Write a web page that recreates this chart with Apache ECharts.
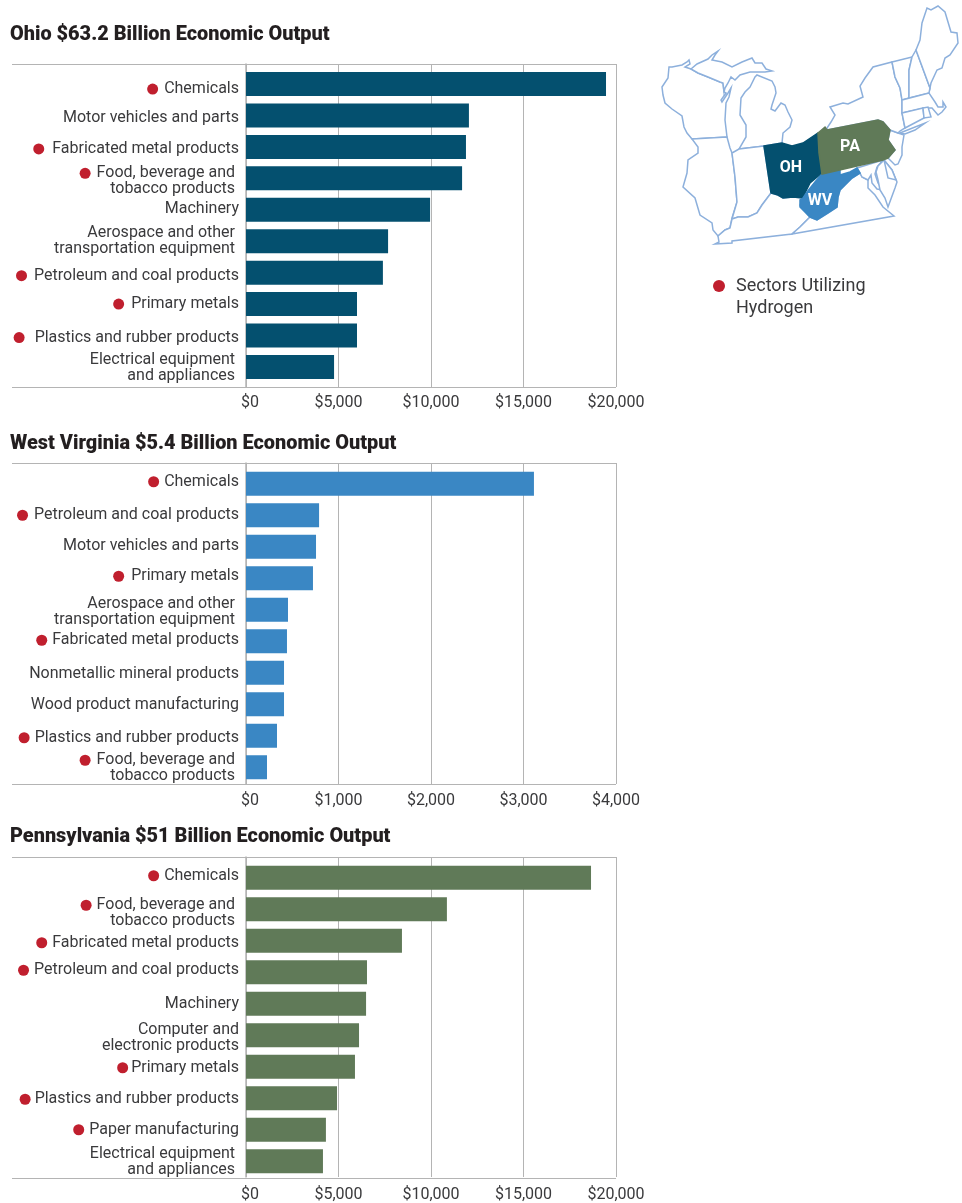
<!DOCTYPE html>
<html style="height: 100%">
<head>
<meta charset="utf-8">
<title>Economic Output</title>
<script src="https://cdn.jsdelivr.net/npm/echarts@6/dist/echarts.min.js"></script>
</head>
<body style="height: 100%; margin: 0; background: #fff">
<div id="container" style="width: 962px; height: 1203px"></div>
<script type="text/javascript">
var ohioTitle = 'Ohio $63.2 Billion Economic Output';
var ohioCategories = ['Chemicals', 'Motor vehicles and parts', 'Fabricated metal products', 'Food, beverage and\ntobacco products', 'Machinery', 'Aerospace and other\ntransportation equipment', 'Petroleum and coal products', 'Primary metals', 'Plastics and rubber products', 'Electrical equipment\nand appliances'];
var ohioValues = [19460, 12050, 11890, 11680, 9950, 7680, 7400, 6000, 6000, 4760];

var wvTitle = 'West Virginia $5.4 Billion Economic Output';
var wvCategories = ['Chemicals', 'Petroleum and coal products', 'Motor vehicles and parts', 'Primary metals', 'Aerospace and other\ntransportation equipment', 'Fabricated metal products', 'Nonmetallic mineral products', 'Wood product manufacturing', 'Plastics and rubber products', 'Food, beverage and\ntobacco products'];
var wvValues = [3113, 790, 757, 724, 454, 443, 411, 411, 335, 227];

var paTitle = 'Pennsylvania $51 Billion Economic Output';
var paCategories = ['Chemicals', 'Food, beverage and\ntobacco products', 'Fabricated metal products', 'Petroleum and coal products', 'Machinery', 'Computer and\nelectronic products', 'Primary metals', 'Plastics and rubber products', 'Paper manufacturing', 'Electrical equipment\nand appliances'];
var paValues = [18650, 10860, 8430, 6540, 6490, 6110, 5890, 4920, 4320, 4160];

var hydrogenSectors = ['Chemicals', 'Fabricated metal products', 'Food, beverage and\ntobacco products', 'Petroleum and coal products', 'Primary metals', 'Plastics and rubber products', 'Paper manufacturing'];
var legendLines = ['Sectors Utilizing', 'Hydrogen'];

// the labels in the original are hand placed, these undo the regular spacing
var ohioNudge = [5, 3, 2, 3, -1, 0, 3, 0, 2, 1];
var wvNudge = [-2, 0, -1, -2, 2, -1, 1, 1, 2, 1];
var paNudge = [-2, 4, 2, -2, 0, 3, 1, 1, 0, 1];
var ohioDotGap = [6, 0, 8, 6, 0, 0, 7, 7, 10, 0];
var wvDotGap = [5, 6, 0, 7, 0, 5, 0, 0, 5, 6];
var paDotGap = [5, 5, 5, 5, 0, 0, 3, 4, 5, 0];
var flushSectors = ['Computer and\nelectronic products'];

// state outlines, traced in a plain x / y space (y grows downward)
var stateOutlines = {
	WI: [[669,67],[672,67],[682,65],[687,62],[689,60],[690,64],[685,67],[691,69],[698,73],[708,77],[720,82],[723,83],[724,92],[726,93],[721,100],[722,102],[728,93],[731,88],[732,88],[729,97],[726,103],[725,120],[727,137],[692,139],[687,133],[684,127],[682,116],[672,109],[665,103],[663,95],[662,87],[668,78]],
	UP: [[691,69],[697,64],[708,59],[712,55],[718,51],[715,55],[712,60],[722,62],[732,67],[742,62],[752,58],[755,63],[762,63],[766,69],[772,71],[765,72],[757,72],[750,72],[740,75],[735,80],[731,77],[728,83],[725,88],[724,92],[723,83],[720,82],[708,77],[698,73]],
	MI: [[757,75],[772,81],[775,87],[776,93],[772,105],[771,109],[775,111],[781,103],[785,105],[788,112],[792,120],[790,127],[783,133],[782,143],[764,146],[739,149],[746,137],[746,125],[740,115],[741,98],[745,92],[750,87],[755,77]],
	IL: [[692,139],[727,137],[730,148],[732,153],[735,177],[737,202],[732,218],[730,228],[725,230],[718,236],[713,230],[712,223],[700,215],[695,198],[683,187],[687,173],[688,160],[698,153],[698,147]],
	IN: [[732,153],[739,149],[764,146],[771,193],[762,205],[757,213],[748,217],[738,217],[732,219],[737,202],[735,177]],
	KY: [[715,244],[732,243],[732,241],[792,234],[800,227],[810,217],[800,205],[803,198],[793,197],[783,198],[778,195],[771,193],[762,205],[757,213],[748,217],[738,217],[732,219],[730,228],[725,230],[718,236],[719,242]],
	VA: [[792,234],[800,227],[810,217],[817,220],[828,213],[837,207],[838,197],[840,190],[845,185],[852,178],[860,173],[862,177],[868,180],[868,188],[875,195],[883,207],[894,216]],
	MD: [[857,168],[883,160],[877,167],[875,174],[878,183],[883,190],[877,189],[872,183],[871,175],[868,180],[862,177],[860,173]],
	DM: [[884,160],[892,170],[897,182],[895,188],[888,207],[885,198],[880,190],[878,180],[876,172],[878,166]],
	DE: [[884,160],[892,170],[896,180],[888,178]],
	NJ: [[890,130],[898,133],[904,135],[902,147],[902,155],[898,164],[895,165],[888,158],[895,150],[888,140]],
	NY: [[827,130],[827,128],[831,122],[835,115],[830,107],[843,103],[848,104],[863,97],[860,86],[865,78],[873,67],[892,62],[895,77],[900,88],[902,100],[902,113],[905,128],[900,131],[898,133],[890,130],[883,122],[878,120]],
	LI: [[900,133],[925,123],[915,130],[905,134]],
	VT: [[892,62],[912,57],[909,70],[909,98],[902,100],[900,88],[895,77]],
	NH: [[912,57],[916,50],[930,88],[929,93],[909,98],[909,70]],
	ME: [[916,50],[920,40],[922,23],[927,8],[931,10],[938,6],[945,12],[951,32],[957,33],[958,43],[950,55],[945,58],[942,68],[937,70],[931,83],[930,88]],
	MA: [[902,100],[929,93],[935,102],[938,107],[943,107],[943,102],[946,107],[942,112],[938,115],[932,108],[925,108],[902,113]],
	CT: [[902,113],[923,108],[924,118],[905,128]],
	RI: [[923,108],[928,107],[931,117],[924,118]],
	OH: [[764,146],[782,143],[792,146],[803,143],[818,133],[821,150],[822,173],[810,183],[806,191],[803,198],[793,197],[783,198],[778,195],[771,193]],
	WV: [[822,174],[840,169],[840,175],[850,172],[857,168],[860,173],[852,178],[845,185],[840,190],[838,197],[837,207],[828,213],[817,220],[810,217],[800,207],[800,200],[803,198],[807,192],[815,182]],
	PA: [[818,133],[825,127],[827,130],[878,120],[883,122],[890,130],[888,140],[895,150],[888,158],[883,160],[822,174],[819,153]]
};
var labelCenters = { OH: [791, 168], PA: [850, 147], WV: [820, 201] };
var stateColors = { OH: '#04506f', WV: '#3a87c4', PA: '#607a58' };

var features = [];
for (var key in stateOutlines) {
	features.push({
		type: 'Feature',
		properties: { name: key, cp: labelCenters[key] ? [labelCenters[key][0], -labelCenters[key][1]] : undefined },
		geometry: {
			type: 'Polygon',
			coordinates: [stateOutlines[key].map(function (p) { return [p[0], -p[1]]; })]
		}
	});
}
echarts.registerMap('states', { type: 'FeatureCollection', features: features });

var textColor = '#3a3a3c';
var frameColor = '#b4b4b4';
var dotColor = '#c01f2e';

var labelRich = {
	t: { align: 'right', color: textColor, fontFamily: 'Roboto', fontSize: 16, lineHeight: 16 },
	t2: { align: 'right', color: textColor, fontFamily: 'Roboto', fontSize: 16, lineHeight: 16, padding: [0, 4, 0, 0] },
	dot: { align: 'right', width: 11, height: 11, borderRadius: 5.5, backgroundColor: dotColor }
};
for (var g = 1; g <= 10; g++) {
	labelRich['gap' + g] = { align: 'right', width: g, height: 11 };
}

function sectorLabel(value, gap) {
	var lines = value.split('\n');
	var style = lines.length > 1 && flushSectors.indexOf(value) < 0 ? 't2' : 't';
	var text = '{' + style + '|' + lines[0] + '}';
	if (hydrogenSectors.indexOf(value) >= 0) {
		text = '{dot|}{gap' + gap + '|}' + text;
	}
	if (lines.length > 1) {
		text += '\n{' + style + '|' + lines[1] + '}';
	}
	return text;
}

function categoryItem(name, nudge) {
	// padding on one side shifts the centred label by half of it
	var pad = nudge > 0 ? [nudge * 2, 0, 0, 0] : [0, 0, -nudge * 2, 0];
	return { value: name, textStyle: { padding: pad } };
}

var panels = [
	{ title: ohioTitle, categories: ohioCategories, values: ohioValues, nudge: ohioNudge, dotGap: ohioDotGap, max: 20000, color: stateColors.OH, top: 64, bottom: 387, barTop: 68.3, barBottom: 382.7, titleTop: 25, tickMargin: 8 },
	{ title: wvTitle, categories: wvCategories, values: wvValues, nudge: wvNudge, dotGap: wvDotGap, max: 4000, color: stateColors.WV, top: 463, bottom: 784, barTop: 468, barBottom: 783, titleTop: 434, tickMargin: 9 },
	{ title: paTitle, categories: paCategories, values: paValues, nudge: paNudge, dotGap: paDotGap, max: 20000, color: stateColors.PA, top: 857, bottom: 1178, barTop: 862, barBottom: 1177, titleTop: 827, tickMargin: 10 }
];

var titles = [], grids = [], xAxes = [], yAxes = [], series = [], rules = [];

panels.forEach(function (p) {
	titles.push({
		text: p.title, left: 10, top: p.titleTop, padding: 0,
		textStyle: { fontFamily: 'Roboto', fontWeight: 900, fontSize: 19.9, color: '#231f20' }
	});

	// frame grid carries the value axis and the vertical rules
	var frameIndex = grids.length;
	grids.push({ left: 246, width: 370, top: p.top, height: p.bottom - p.top });
	xAxes.push({
		gridIndex: frameIndex, type: 'value', min: 0, max: p.max, interval: p.max / 4,
		axisLine: { show: false }, axisTick: { show: false },
		splitLine: { show: true, lineStyle: { color: frameColor, width: 1 } },
		axisLabel: {
			margin: p.tickMargin, color: textColor, fontFamily: 'Roboto', fontSize: 16,
			formatter: function (v) { return v === 0 ? '\u00a0\u00a0$0' : '$' + v.toLocaleString('en-US'); }
		}
	});
	yAxes.push({
		gridIndex: frameIndex, type: 'value', min: 0, max: 1,
		axisLine: { show: true, lineStyle: { color: frameColor, width: 1.5 } },
		axisTick: { show: false }, axisLabel: { show: false }, splitLine: { show: false }
	});

	// bar grid sits a little inside the frame
	var barIndex = grids.length;
	grids.push({ left: 246, width: 370, top: p.barTop, height: p.barBottom - p.barTop });
	xAxes.push({ gridIndex: barIndex, type: 'value', min: 0, max: p.max, show: false });
	yAxes.push({
		gridIndex: barIndex, type: 'category', inverse: true,
		data: p.categories.map(function (c, i) { return categoryItem(c, p.nudge[i]); }),
		axisLine: { show: false }, axisTick: { show: false },
		axisLabel: {
			margin: 7, interval: 0, align: 'right', color: textColor, fontFamily: 'Roboto', fontSize: 16,
			formatter: function (value, index) { return sectorLabel(value, p.dotGap[index]); },
			rich: labelRich
		}
	});
	series.push({
		type: 'bar', xAxisIndex: barIndex, yAxisIndex: barIndex, data: p.values,
		barWidth: 24, silent: true, itemStyle: { color: p.color }, z: 3
	});

	// top and bottom rules run out past the labels
	[p.top, p.bottom].forEach(function (y) {
		rules.push({ type: 'line', silent: true, shape: { x1: 12, y1: y + 0.5, x2: 616, y2: y + 0.5 }, style: { stroke: frameColor, lineWidth: 1 } });
	});
});

titles.push({
	left: 713, top: 275, padding: 0,
	text: '{dot|}{gap|}{t|' + legendLines[0] + '}\n{gap2|}{t|' + legendLines[1] + '}',
	textStyle: {
		fontWeight: 'normal',
		rich: {
			t: { fontFamily: 'Roboto', fontSize: 18, fontWeight: 'normal', color: textColor, lineHeight: 22 },
			dot: { width: 12, height: 12, borderRadius: 6, backgroundColor: dotColor },
			gap: { width: 11, height: 12 },
			gap2: { width: 23, height: 12 }
		}
	}
});

var regions = ['OH', 'PA', 'WV'].map(function (name) {
	return {
		name: name,
		itemStyle: { areaColor: stateColors[name], borderColor: stateColors[name] },
		label: { show: true, color: '#fff', fontFamily: 'Roboto', fontWeight: 700, fontSize: 16 }
	};
});

var myChart = echarts.init(document.getElementById('container'), null, { renderer: 'canvas' });
myChart.setOption({
	animation: false,
	backgroundColor: '#fff',
	title: titles,
	grid: grids,
	xAxis: xAxes,
	yAxis: yAxes,
	series: series,
	graphic: rules,
	geo: {
		map: 'states', roam: false, silent: true, aspectScale: 1,
		left: 662, top: 6, width: 296, height: 238,
		label: { show: false },
		itemStyle: { areaColor: '#fff', borderColor: '#8db0dc', borderWidth: 1.5 },
		regions: regions
	}
});
</script>
</body>
</html>
